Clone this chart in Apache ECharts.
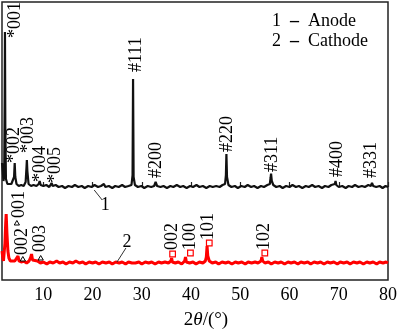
<!DOCTYPE html>
<html><head><meta charset="utf-8">
<script src="https://cdn.jsdelivr.net/npm/echarts@6/dist/echarts.min.js"></script>
<style>html,body{margin:0;padding:0;background:#fff}#c{width:400px;height:329px}</style>
</head><body><div id="c"></div>
<script>
// 2θ (deg), intensity (a.u., baseline ≈ 0)
const anode = [[1.6,24],[1.75,16],[1.9,6],[2.05,12],[2.15,90],[2.2,155],[2.27,60],[2.4,8],[2.7,3],[3.1,2],[3.5,3],[3.8,5],[4.05,10],[4.18,24],[4.3,10],[4.55,3],[5.0,1],[5.5,2],[6.0,1],[6.4,5],[6.58,20],[6.65,27],[6.75,16],[7.0,3],[7.5,1],[8.0,2],[8.6,1],[9.05,3],[9.25,6],[9.45,2],[10.0,1],[10.6,2],[11.2,0],[11.5,2],[11.67,4],[11.9,1],[12.5,2],[13.1,0],[13.8,1],[14.4,-1],[15.1,1],[15.8,0],[16.4,2],[17.1,0],[17.8,1],[18.4,-1],[19.1,1],[19.8,0],[20.4,2],[21.1,0],[21.7,1],[22.3,3],[22.6,0],[23.3,1],[24.0,-1],[24.6,1],[25.3,0],[26.0,2],[26.6,0],[27.3,1],[27.9,2],[28.12,12],[28.22,108],[28.33,10],[28.6,2],[29.2,0],[29.9,1],[30.5,-1],[31.2,1],[31.9,0],[32.5,1],[32.8,5],[33.1,1],[33.8,0],[34.4,1],[35.1,-1],[35.8,1],[36.4,0],[37.1,2],[37.8,0],[38.4,1],[39.1,-1],[39.8,1],[40.4,0],[41.1,2],[41.7,0],[42.4,1],[43.1,-1],[43.8,1],[44.4,0],[45.1,1],[45.8,0],[46.4,2],[46.9,3],[47.08,12],[47.18,33],[47.3,10],[47.6,2],[48.2,0],[48.9,1],[49.5,-1],[50.2,1],[50.9,0],[51.5,2],[52.2,0],[52.8,1],[53.5,-1],[54.2,1],[54.8,0],[55.5,2],[56.0,3],[56.15,9],[56.25,13.5],[56.4,6],[56.7,2],[57.3,0],[58.0,1],[58.6,-1],[59.3,1],[60.0,0],[60.6,2],[61.3,0],[61.9,1],[62.6,-1],[63.3,1],[63.9,0],[64.6,2],[65.2,0],[65.9,1],[66.6,-1],[67.2,1],[67.9,0],[68.5,2],[69.2,3],[69.35,6],[69.5,2],[70.0,0],[70.7,1],[71.4,-1],[72.0,1],[72.7,0],[73.3,2],[74.0,0],[74.7,1],[75.3,0],[76.0,2],[76.5,1],[76.75,4],[77.0,1],[77.6,0],[78.3,1],[78.9,-1],[79.5,1],[80,0]];
const cathode = [[1.6,12],[1.75,6],[1.9,2],[2.05,4],[2.2,20],[2.35,40],[2.45,49],[2.6,30],[2.8,12],[3.0,5],[3.3,2],[3.7,1],[4.2,2],[4.6,1],[4.85,7],[5.05,2],[5.5,1],[6.0,2],[6.6,0],[7.1,2],[7.45,6],[7.6,9],[7.8,3],[8.2,1],[8.8,2],[9.4,0],[10.0,1],[10.7,-1],[11.3,1],[12.0,0],[12.7,2],[13.3,0],[14.0,1],[14.6,-1],[15.3,1],[16.0,0],[16.6,2],[17.3,0],[18.0,1],[18.6,-1],[19.3,1],[20.0,0],[20.6,1],[21.3,-1],[22.0,1],[22.35,3],[22.7,0],[23.4,1],[24.0,-1],[24.7,1],[25.4,0],[26.0,1],[26.7,-1],[27.3,1],[28.0,0],[28.3,2],[28.7,0],[29.4,1],[30.0,-1],[30.7,1],[31.4,0],[32.0,1],[32.7,-1],[33.4,1],[34.0,0],[34.7,1],[35.4,0],[35.9,2],[36.05,5],[36.2,1],[36.8,0],[37.4,1],[38.1,-1],[38.7,2],[38.87,6],[39.05,1],[39.7,0],[40.4,1],[41.0,-1],[41.7,1],[42.4,0],[42.9,2],[43.1,6],[43.25,17],[43.4,7],[43.7,2],[44.3,0],[45.0,1],[45.6,-1],[46.3,1],[47.0,0],[47.6,1],[48.3,-1],[49.0,1],[49.6,0],[50.3,1],[51.0,-1],[51.6,1],[52.3,0],[53.0,1],[53.6,0],[54.2,2],[54.38,6],[54.55,2],[55.0,0],[55.7,1],[56.3,-1],[57.0,1],[57.7,0],[58.3,1],[59.0,-1],[59.7,1],[60.3,0],[61.0,1],[61.7,-1],[62.3,1],[63.0,0],[63.7,1],[64.3,-1],[65.0,1],[65.7,0],[66.3,1],[67.0,-1],[67.7,1],[68.3,0],[69.0,1],[69.7,-1],[70.3,1],[71.0,0],[71.7,1],[72.3,-1],[73.0,1],[73.7,0],[74.3,1],[75.0,-1],[75.7,1],[76.3,0],[77.0,1],[77.7,-1],[78.3,1],[79.0,0],[79.6,1],[80,0]];
const xTicks = [10,20,30,40,50,60,70,80];

const anodeLabels = ['*001','*002','*003','*004','*005','#111','#200','#220','#311','#400','#331'];
const anodeLabelTheta = [4.22,4.02,6.84,9.46,12.48,28.8,33.0,47.33,56.4,69.7,76.54];
const anodeLabelI = [149,24,34,5,4,115,9,35,15,10,9];

const cathodeLabels = ['001','002','003','002','100','101','102'];
const cathodeLabelTheta = [5.02,5.63,9.46,36.25,39.87,43.5,54.78];
const cathodeLabelI = [45,8,11,13,13,23,13];
const cathodeMarkers = ['tri','tri','tri','sq','sq','sq','sq'];
const cathodeMarkerTheta = [4.62,5.83,9.46,36.25,39.87,43.7,54.98];
const cathodeMarkerI = [40,4,5,9,10,20,10];

const tagText = ['1','2'];
const tagTheta = [22.55,26.97];
const tagI = [-18,21];
const tagLineFrom = [[20.33,-3],[24.96,1]];
const tagLineTo = [[21.95,-13],[26.77,15]];

const legendNums = ['1','2'];
const legendNames = ['Anode','Cathode'];

const FF = 'Liberation Serif';
const FONT = '"Liberation Serif", serif';

function labelSeries(texts, thetas, ints, axis){
  return {
    type:'custom', yAxisIndex:axis, silent:true, z:5,
    data: thetas.map((t,i)=>[t, ints[i], i]),
    renderItem:(params, api)=>{
      const p = api.coord([api.value(0), api.value(1)]);
      return {type:'text', x:p[0], y:p[1], rotation:Math.PI/2,
        style:{text:texts[api.value(2)], fill:'#000', font:'18px '+FONT, align:'left', verticalAlign:'middle'}};
    }
  };
}

const legendRich = {
  t:{fontSize:18,fontFamily:FF,fill:'#000'},
  d:{fontSize:18,fontFamily:FF,fontWeight:'bold',fill:'#000'}
};

const chart = echarts.init(document.getElementById('c'), null, {renderer:'canvas'});
chart.setOption({
  animation:false,
  textStyle:{fontFamily:FF},
  grid:{left:2,right:9,top:2,bottom:49,show:true,borderColor:'#222',borderWidth:1.5,backgroundColor:'transparent'},
  xAxis:{type:'value',min:1.6,max:80,
    axisLine:{show:false},
    splitLine:{show:false},
    axisTick:{show:true,inside:true,length:5,customValues:xTicks,lineStyle:{color:'#222',width:1.2}},
    axisLabel:{customValues:xTicks,margin:6,color:'#000',fontSize:18,fontFamily:FF}
  },
  yAxis:[
    {type:'value',min:-93,max:185,show:false},
    {type:'value',min:-17,max:261,show:false}
  ],
  graphic:[0,1].map(i=>({type:'text',x:272,y:i?41.5:21,style:{
      text:'{t|'+legendNums[i]+'  }{d|\u2013}{t|  '+legendNames[i]+'}',verticalAlign:'middle',rich:legendRich}}))
    .concat([
    {type:'text',x:206,y:320,style:{text:'{a|2}{b|\u03b8}{a|/(°)}',align:'center',verticalAlign:'middle',
      rich:{a:{fontSize:19,fontFamily:FF,fill:'#000'},b:{fontSize:19,fontFamily:FF,fontStyle:'italic',fill:'#000'}}}}
  ]),
  series:[
    {type:'line',name:'Anode',yAxisIndex:0,data:anode,symbol:'none',lineStyle:{color:'#111',width:2.2},z:3},
    {type:'line',name:'Cathode',yAxisIndex:1,data:cathode,symbol:'none',lineStyle:{color:'#ff0000',width:3},z:3},
    labelSeries(anodeLabels, anodeLabelTheta, anodeLabelI, 0),
    labelSeries(cathodeLabels, cathodeLabelTheta, cathodeLabelI, 1),
    {type:'custom',yAxisIndex:1,silent:true,z:6,
      data:cathodeMarkerTheta.map((t,i)=>[t,cathodeMarkerI[i],i]),
      renderItem:(params, api)=>{
        const p = api.coord([api.value(0), api.value(1)]);
        const k = cathodeMarkers[api.value(2)];
        if(k==='tri'){
          return {type:'polygon',shape:{points:[[p[0],p[1]-2.5],[p[0]-2.6,p[1]+2],[p[0]+2.6,p[1]+2]]},
            style:{fill:'#fff',stroke:'#000',lineWidth:1}};
        }
        return {type:'rect',shape:{x:p[0]-2.8,y:p[1]-2.8,width:5.6,height:5.6},
          style:{fill:'#fff',stroke:'#ff0000',lineWidth:1.2}};
      }
    },
    ...[0,1].map(j=>({type:'custom',yAxisIndex:j,silent:true,z:6,
      data:[[tagTheta[j],tagI[j],tagLineFrom[j][0],tagLineFrom[j][1],tagLineTo[j][0],tagLineTo[j][1]]],
      renderItem:(params, api)=>{
        const p = api.coord([api.value(0), api.value(1)]);
        const a = api.coord([api.value(2), api.value(3)]);
        const b = api.coord([api.value(4), api.value(5)]);
        return {type:'group',children:[
          {type:'line',shape:{x1:a[0],y1:a[1],x2:b[0],y2:b[1]},style:{stroke:'#333',lineWidth:1}},
          {type:'text',x:p[0],y:p[1],style:{text:tagText[j],font:'18px '+FONT,fill:'#000',align:'center',verticalAlign:'middle'}}
        ]};
      }
    }))
  ]
});
</script></body></html>
